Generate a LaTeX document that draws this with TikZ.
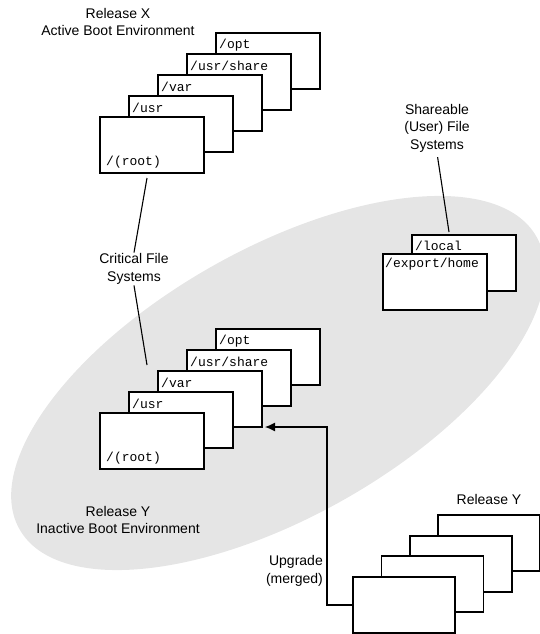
\documentclass[tikz,border=0pt]{standalone}
\usepackage{fontspec}
\setmainfont{Liberation Sans}
\setmonofont{Liberation Mono}
\usetikzlibrary{arrows.meta,shapes.geometric}

\begin{document}
\begin{tikzpicture}[x=1pt,y=1pt,
  fsbox/.style={draw=black, line width=1.3pt, fill=white, minimum width=104pt,
    minimum height=56pt, anchor=north west, inner sep=0pt, outer sep=0pt},
  rybox/.style={fsbox, minimum width=102pt},
  fsname/.style={font=\fontsize{13}{14}\selectfont\ttfamily, inner sep=0pt, anchor=west},
  caption/.style={font=\fontsize{14}{17.5}\selectfont, align=center, inner sep=1pt, text=black},
  leader/.style={line width=1.1pt}]

\useasboundingbox (0,0) rectangle (540,-634);
\clip (0,0) rectangle (540,-634);

% shaded region: the inactive boot environment
\node[ellipse, fill=gray!20, minimum width=594pt, minimum height=268pt,
  rotate=29.5, inner sep=0pt] (ibe) at (278,-383) {};

% Release X, active boot environment
\node[fsbox] (xopt)   at (216,-33)  {};
\node[fsbox] (xshare) at (187,-54)  {};
\node[fsbox] (xvar)   at (158,-75)  {};
\node[fsbox] (xusr)   at (129,-96)  {};
\node[fsbox] (xroot)  at (100,-117) {};
\node[fsname] at ([shift={(3,-12)}]xopt.north west)   {/opt};
\node[fsname] at ([shift={(3,-12)}]xshare.north west) {/usr/share};
\node[fsname] at ([shift={(3,-12)}]xvar.north west)   {/var};
\node[fsname] at ([shift={(3,-12)}]xusr.north west)   {/usr};
\node[fsname] at ([shift={(6,11)}]xroot.south west)   {/(root)};

% Release Y, inactive boot environment
\node[fsbox] (yopt)   at (216,-329) {};
\node[fsbox] (yshare) at (187,-350) {};
\node[fsbox] (yvar)   at (158,-371) {};
\node[fsbox] (yusr)   at (129,-392) {};
\node[fsbox] (yroot)  at (100,-413) {};
\node[fsname] at ([shift={(3,-12)}]yopt.north west)   {/opt};
\node[fsname] at ([shift={(3,-12)}]yshare.north west) {/usr/share};
\node[fsname] at ([shift={(3,-12)}]yvar.north west)   {/var};
\node[fsname] at ([shift={(3,-12)}]yusr.north west)   {/usr};
\node[fsname] at ([shift={(6,11)}]yroot.south west)   {/(root)};

% shareable file systems
\node[fsbox] (local)   at (412,-235) {};
\node[fsbox] (exphome) at (383,-254) {};
\node[fsname] at ([shift={(3,-11)}]local.north west)   {/local};
\node[fsname] at ([shift={(2,-10)}]exphome.north west) {/export/home};

% Release Y media
\node[rybox] (ry4) at (438,-515) {};
\node[rybox] (ry3) at (410,-536) {};
\node[rybox] (ry2) at (381.5,-556) {};
\node[rybox] (ry1) at (353,-577) {};

% captions
\node[caption] (relx)   at (118,-22)  {Release X\\Active Boot Environment};
\node[caption] (crit)   at (134,-269) {Critical File\\Systems};
\node[caption] (share)  at (437,-128) {Shareable\\(User) File\\Systems};
\node[caption] (rely)   at (118,-520) {Release Y\\Inactive Boot Environment};
\node[caption] (relnew) at (489,-499) {Release Y};
\node[caption, align=right, anchor=east] (upg) at (324,-571) {Upgrade\\(merged)};

% leader lines
\coordinate (critA)  at (147,-178);
\coordinate (critB)  at (147,-365);
\coordinate (shareB) at (449,-232);
\coordinate (upgtip) at (265,-427);
\draw[leader] (critA) -- (crit.north);
\draw[leader] (crit.south) -- (critB);
\draw[leader, shorten <=4pt] (share.south) -- (shareB);
\draw[leader, -{Latex[length=10pt,width=9pt]}] (ry1.west) -- ++(-26,0) |- (upgtip);
\end{tikzpicture}
\end{document}
